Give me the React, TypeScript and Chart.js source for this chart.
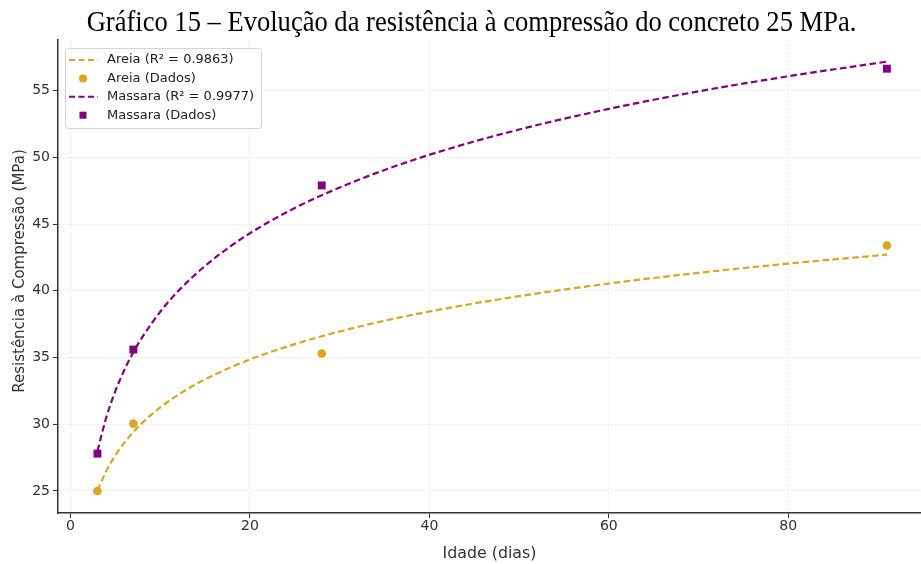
import React, { useEffect, useRef } from "react";
import { Chart, registerables } from "chart.js";

Chart.register(...registerables);

const TITLE = "Gráfico 15 – Evolução da resistência à compressão do concreto 25 MPa.";
const X_LABEL = "Idade (dias)";
const Y_LABEL = "Resistência à Compressão (MPa)";

const AGES = [3, 7, 28, 91];
const AREIA_DATA = [25.0, 30.05, 35.3, 43.4];
const MASSARA_DATA = [27.8, 35.6, 47.9, 56.65];

const CURVE_AGES = [3, 4, 5, 6, 7, 8, 10, 12, 15, 18, 21, 25, 28, 35, 42, 50, 60, 70, 80, 91];
const AREIA_CURVE = [25.03, 26.52, 27.67, 28.62, 29.42, 30.11, 31.27, 32.21, 33.37, 34.31, 35.11, 36.01, 36.6, 37.76, 38.7, 39.6, 40.55, 41.35, 42.04, 42.71];
const MASSARA_CURVE = [28.0, 30.55, 32.5, 34.07, 35.4, 36.53, 38.43, 39.98, 41.87, 43.42, 44.73, 46.21, 47.17, 49.06, 50.61, 52.09, 53.64, 54.95, 56.08, 57.18];

const X_TICKS = [0, 20, 40, 60, 80];
const Y_TICKS = [25, 30, 35, 40, 45, 50, 55];

const LABELS = ["Areia (R² = 0.9863)", "Areia (Dados)", "Massara (R² = 0.9977)", "Massara (Dados)"];
const AREIA_COLOR = "#DAA520";
const MASSARA_COLOR = "#800080";

const SANS = "'DejaVu Sans', sans-serif";
const SERIF = "'Liberation Serif', 'Times New Roman', serif";

const toXY = (xs: number[], ys: number[]) => xs.map((x, i) => ({ x, y: ys[i] }));

const textPlugin = {
  id: "customText",
  afterDraw(chart: any) {
    const { ctx } = chart;
    // Title
    ctx.save();
    ctx.translate(471.5, 30.5);
    ctx.scale(0.9, 1);
    ctx.font = `29.5px ${SERIF}`;
    ctx.fillStyle = "#000";
    ctx.textAlign = "center";
    ctx.textBaseline = "alphabetic";
    ctx.fillText(TITLE, 0, 0);
    ctx.restore();
    // Y axis title
    ctx.save();
    ctx.translate(20, 271);
    ctx.rotate(-Math.PI / 2);
    ctx.font = `15px ${SANS}`;
    ctx.fillStyle = "#333";
    ctx.textAlign = "center";
    ctx.textBaseline = "middle";
    ctx.fillText(Y_LABEL, 0, 0);
    ctx.restore();
  },
};

const legendPlugin = {
  id: "insideLegend",
  afterDatasetsDraw(chart: any) {
    const { ctx, chartArea } = chart;
    const x0 = chartArea.left + 7;
    const y0 = chartArea.top + 8;
    const w = 196;
    const h = 80;
    ctx.save();
    ctx.fillStyle = "rgba(255,255,255,0.85)";
    ctx.strokeStyle = "#d6d6d6";
    ctx.lineWidth = 1;
    ctx.beginPath();
    (ctx as any).roundRect(x0 + 0.5, y0 + 0.5, w, h, 3);
    ctx.fill();
    ctx.stroke();
    ctx.font = `13px ${SANS}`;
    ctx.textBaseline = "middle";
    ctx.textAlign = "left";
    chart.data.datasets.forEach((ds: any, i: number) => {
      const cy = y0 + 12 + i * 18.4;
      const color = ds.borderColor;
      if (ds.showLine) {
        ctx.save();
        ctx.strokeStyle = color;
        ctx.lineWidth = 2;
        ctx.setLineDash([6, 3.5]);
        ctx.beginPath();
        ctx.moveTo(x0 + 4, cy);
        ctx.lineTo(x0 + 33, cy);
        ctx.stroke();
        ctx.restore();
      } else {
        ctx.fillStyle = ds.backgroundColor;
        const cx = x0 + 18;
        if (ds.pointStyle === "rect") {
          ctx.fillRect(cx - 3.5, cy - 3.5, 7, 7);
        } else {
          ctx.beginPath();
          ctx.arc(cx, cy, 4, 0, Math.PI * 2);
          ctx.fill();
        }
      }
      ctx.fillStyle = "#222";
      ctx.fillText(ds.label, x0 + 42, cy);
    });
    ctx.restore();
  },
};

export default function App() {
  const ref = useRef<HTMLCanvasElement | null>(null);

  useEffect(() => {
    if (!ref.current) return;
    const lineDs = (label: string, ys: number[], color: string) => ({
      type: "line" as const,
      label,
      data: toXY(CURVE_AGES, ys),
      borderColor: color,
      backgroundColor: color,
      borderWidth: 2.2,
      borderDash: [6.5, 3.5],
      pointRadius: 0,
      showLine: true,
      cubicInterpolationMode: "monotone" as const,
      fill: false,
    });
    const ptDs = (label: string, ys: number[], color: string, style: string, r: number) => ({
      type: "scatter" as const,
      label,
      data: toXY(AGES, ys),
      borderColor: color,
      backgroundColor: color,
      pointStyle: style,
      pointRadius: r,
      pointBorderWidth: 0,
      showLine: false,
    });
    const tickFont = { family: SANS, size: 14 };
    const titleFont = { family: SANS, size: 15.8 };
    const chart = new Chart(ref.current, {
      type: "scatter",
      data: {
        datasets: [
          lineDs(LABELS[0], AREIA_CURVE, AREIA_COLOR),
          ptDs(LABELS[1], AREIA_DATA, AREIA_COLOR, "circle", 4.3),
          lineDs(LABELS[2], MASSARA_CURVE, MASSARA_COLOR),
          ptDs(LABELS[3], MASSARA_DATA, MASSARA_COLOR, "rect", 5.6),
        ] as any,
      },
      options: {
        responsive: false,
        animation: false,
        layout: { padding: { top: 40, left: 0, right: 0, bottom: 0 }, autoPadding: false },
        plugins: {
          legend: { display: false },
          tooltip: { enabled: false },
          title: { display: false },
        },
        scales: {
          x: {
            type: "linear",
            min: -1.4,
            max: 94.8,
            afterBuildTicks: (s: any) => {
              s.ticks = X_TICKS.map((v) => ({ value: v }));
            },
            afterFit: (s: any) => {
              s.height = 51;
            },
            ticks: { color: "#333", font: tickFont, padding: 0 },
            grid: { color: "rgba(0,0,0,0.08)", tickColor: "#333", tickLength: 5, tickWidth: 1 },
            border: { color: "#333", width: 1.5, dash: [2, 2] },
            title: { display: true, text: X_LABEL, color: "#333", font: titleFont, padding: { top: 2, bottom: 1 } },
          },
          y: {
            type: "linear",
            min: 23.35,
            max: 58.8,
            afterBuildTicks: (s: any) => {
              s.ticks = Y_TICKS.map((v) => ({ value: v }));
            },
            afterFit: (s: any) => {
              s.width = 58;
            },
            ticks: { color: "#333", font: tickFont, padding: 3 },
            grid: { color: "rgba(0,0,0,0.08)", tickColor: "#333", tickLength: 5, tickWidth: 1 },
            border: { color: "#333", width: 1.5, dash: [2, 2] },
            title: { display: false },
          },
        },
      },
      plugins: [legendPlugin, textPlugin],
    });
    return () => chart.destroy();
  }, []);

  return (
    <div style={{ position: "absolute", left: 0, top: 0, width: 921, height: 564, background: "#fff" }}>
      <canvas ref={ref} width={921} height={564} />
    </div>
  );
}
